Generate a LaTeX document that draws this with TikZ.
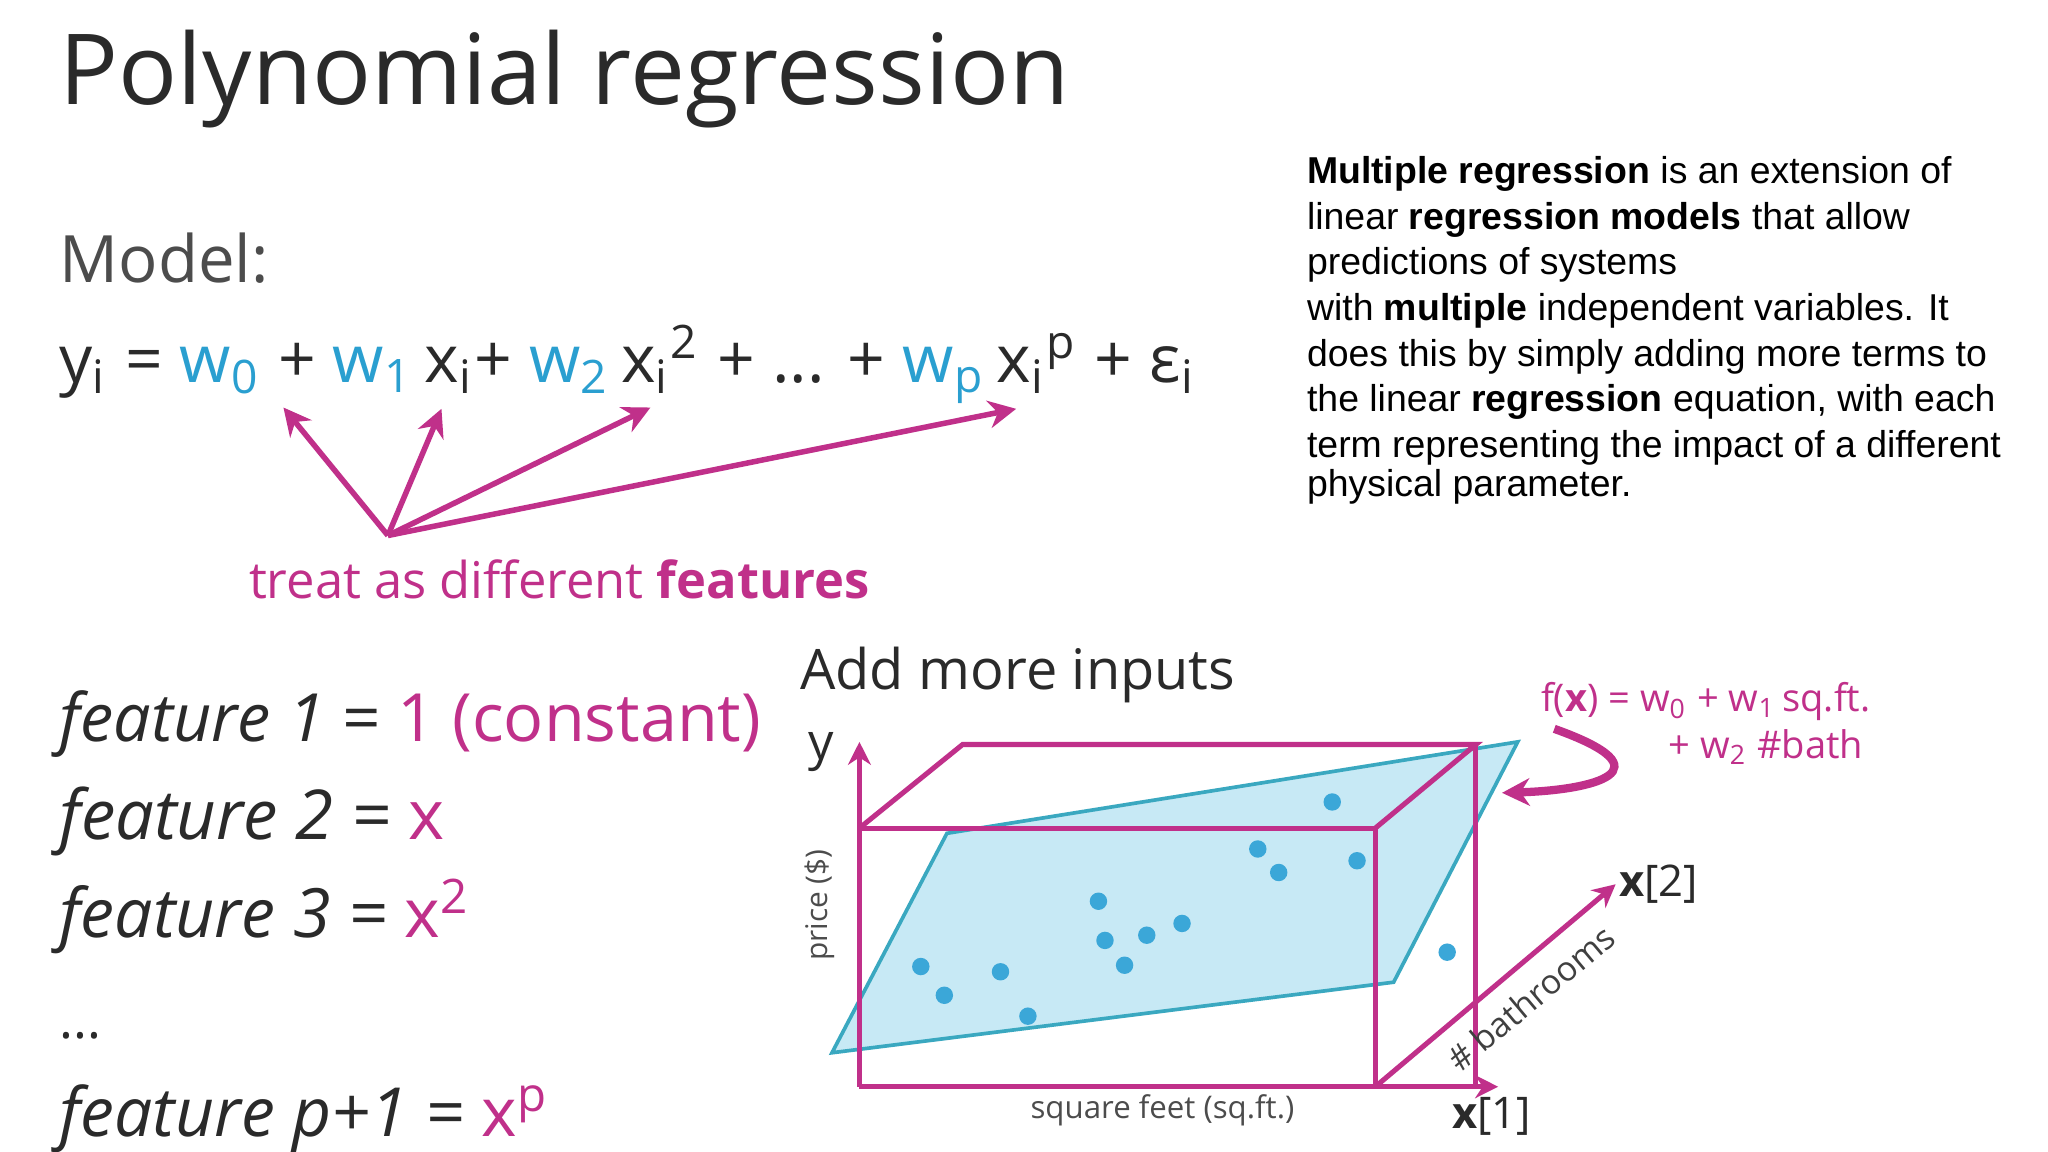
\documentclass[tikz,border=0pt]{standalone}
\usepackage{fontspec}
\setmainfont{Open Sans}
\newfontfamily\arial{Liberation Sans}
\usetikzlibrary{arrows.meta}
\definecolor{mag}{HTML}{C0308A}
\definecolor{wblue}{HTML}{2A9FD0}
\definecolor{dot}{HTML}{3BA7D8}
\definecolor{planefill}{HTML}{C2E7F5}
\definecolor{planeedge}{HTML}{3AA8C0}
\definecolor{txt}{HTML}{2A2A2A}
\tikzset{
  marrow/.style={mag,line width=1.2pt,-{Stealth[length=6pt,width=6pt]}},
  boxline/.style={mag,line width=1.1pt},
  pt/.style={circle,fill=dot,inner sep=0pt,minimum size=3.8pt},
  lbl/.style={inner sep=0pt,text=txt},
}
\begin{document}
\begin{tikzpicture}[x=0.1mm,y=-0.1mm]
\useasboundingbox[fill=white] (0,0) rectangle (1568,882);
% title
\node[lbl,anchor=base west] (title) at (45,80) {\resizebox{77.3mm}{!}{Polynomial regression}};
\node[lbl,anchor=base west,text=black!70] (model) at (45,216) {\resizebox{16mm}{!}{Model:}};
\node[lbl,anchor=base west] (eq) at (45,293) {\resizebox{87mm}{!}{y\textsubscript{i} = \textcolor{wblue}{w\textsubscript{0}} + \textcolor{wblue}{w\textsubscript{1}}\,x\textsubscript{i}+ \textcolor{wblue}{w\textsubscript{2}}\,x\textsubscript{i}\textsuperscript{2} + ... + \textcolor{wblue}{w\textsubscript{p}}\,x\textsubscript{i}\textsuperscript{p} + ε\textsubscript{i}}};
\coordinate (src) at (297,410);
\coordinate (t0) at (217,312);
\coordinate (t1) at (338,313);
\coordinate (t2) at (498,312);
\coordinate (tp) at (778,313);
\foreach \t in {t0,t1,t2,tp}{\draw[marrow] (src) -- (\t);}
\node[lbl,anchor=base west,text=mag] (treat) at (190,458) {\resizebox{47.5mm}{!}{treat as different \textbf{features}}};
% feature list
\node[lbl,anchor=base west] (f1) at (45,568) {\resizebox{53.7mm}{!}{\itshape feature 1 = \textcolor{mag}{\upshape 1 (constant)}}};
\node[lbl,anchor=base west] (f2) at (45,643) {\resizebox{29.5mm}{!}{\itshape feature 2 = \textcolor{mag}{\upshape x}}};
\node[lbl,anchor=base west] (f3) at (45,718) {\resizebox{31.5mm}{!}{\itshape feature 3 = \textcolor{mag}{\upshape x\textsuperscript{2}}}};
\node[lbl,anchor=base west] (dots) at (45,795) {\resizebox{3.2mm}{!}{...}};
\node[lbl,anchor=base west] (fp) at (45,870) {\resizebox{37.5mm}{!}{\itshape feature p+1 = \textcolor{mag}{\upshape x\textsuperscript{p}}}};
% paragraph
\node[anchor=north west,inner sep=0pt,text=black,align=left,font=\arial\fontsize{8.15pt}{9.95pt}\selectfont] (para) at (1000,119) {\textbf{Multiple regression} is an extension of\\linear \textbf{regression models} that allow\\predictions of systems\\with \textbf{multiple} independent variables. It\\does this by simply adding more terms to\\the linear \textbf{regression} equation, with each\\term representing the impact of a different\\[-1.4pt]physical parameter.};
% 3D diagram
\node[lbl,anchor=base west] (add) at (612,528) {\resizebox{33.3mm}{!}{Add more inputs}};
\coordinate (O) at (658,832);
\coordinate (Y) at (658,568);
\coordinate (X1) at (1147,832);
\coordinate (FB) at (1053,832);
\coordinate (FT) at (1053,634);
\coordinate (LT) at (658,634);
\coordinate (BL) at (737,570);
\coordinate (BR) at (1130,570);
\coordinate (BRb) at (1130,832);
\coordinate (X2) at (1237,677);
\fill[planefill,opacity=0.9] (637,806) -- (725,638) -- (1162,568) -- (1067,752) -- cycle;
\draw[planeedge,line width=0.8pt] (637,806) -- (725,638) -- (1162,568) -- (1067,752) -- cycle;
\foreach \p in {(705,740),(723,762),(766,744),(787,778),(841,690),(846,720),(861,739),(878,716),(905,707),(963,650),(979,668),(1020,614),(1039,659),(1108,729)}{\node[pt] at \p {};}
\draw[boxline] (LT) -- (FT) -- (FB);
\draw[boxline] (LT) -- (BL) -- (BR) -- (FT);
\draw[boxline] (BR) -- (BRb);
\draw[boxline,-{Stealth[length=5pt,width=5pt]}] (O) -- (Y);
\draw[boxline,-{Stealth[length=5pt,width=5pt]}] (O) -- (X1);
\draw[boxline,-{Stealth[length=5pt,width=5pt]}] (FB) -- (X2);
\node[lbl,font=\fontsize{11pt}{11pt}\selectfont] (ylab) at (629,576) {y};
\node[lbl,rotate=90,text=black!70,font=\fontsize{6.5pt}{6.5pt}\selectfont] (price) at (628,693) {price (\$)};
\node[lbl,text=black!70,font=\fontsize{6.8pt}{6.8pt}\selectfont] (sqft) at (890,850) {square feet (sq.ft.)};
\node[lbl,font=\fontsize{9.5pt}{9.5pt}\selectfont] (x1lab) at (1142,855) {\textbf{x}[1]};
\node[lbl,font=\fontsize{9.5pt}{9.5pt}\selectfont] (x2lab) at (1270,677) {\textbf{x}[2]};
\node[lbl,rotate=40,text=black!75,font=\fontsize{7.4pt}{7.4pt}\selectfont] (bath) at (1172,764) {\# bathrooms};
\node[lbl,text=mag,font=\fontsize{8.3pt}{8.3pt}\selectfont] (fx1) at (1306,537) {f(\textbf{x}) = w\textsubscript{0} + w\textsubscript{1}\,sq.ft.};
\node[lbl,text=mag,font=\fontsize{8.3pt}{8.3pt}\selectfont] (fx2) at (1352,572) {+ w\textsubscript{2} \#bath};
\coordinate (ca) at (1190,558);
\coordinate (cb) at (1150,607);
\draw[marrow,line width=1.8pt] (ca) .. controls (1280,590) and (1220,605) .. (cb);
\end{tikzpicture}
\end{document}
